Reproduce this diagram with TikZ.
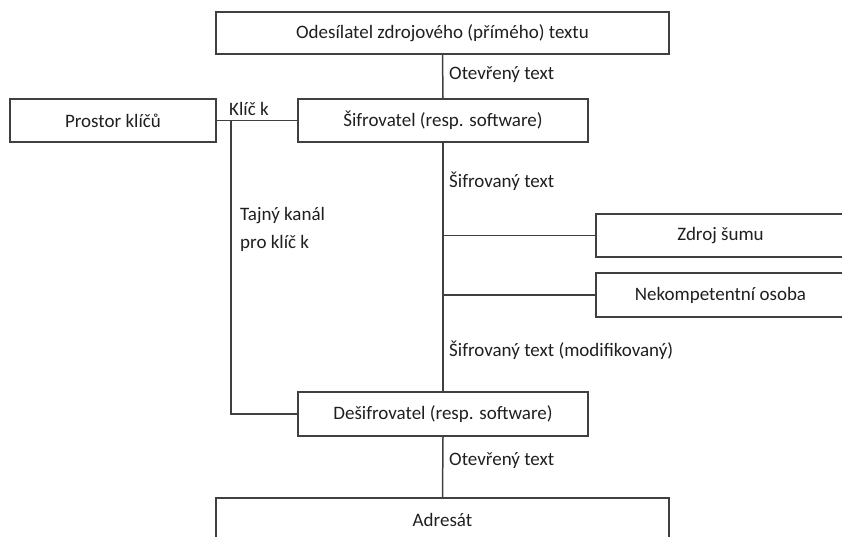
\documentclass[tikz,border=0pt]{standalone}
\usepackage{fontspec}
\setmainfont{Carlito}
\begin{document}
\begin{tikzpicture}[x=1pt,y=-1pt,
  box/.style={draw=black!75, line width=1.5pt, minimum height=43pt, inner sep=0pt, text=black!88},
  conn/.style={draw=black!75, line width=1.5pt},
  lbl/.style={anchor=west, inner sep=0pt, text=black!88},
  font=\fontsize{19}{23}\selectfont]
\useasboundingbox (0,0) rectangle (842,537);
\clip (0,0) rectangle (842,537);
\node[box, minimum width=453pt, minimum height=42pt] (src) at (442.5,33) {Odesílatel zdrojového (přímého) textu};
\node[box, minimum width=290pt] (enc) at (443,120.5) {Šifrovatel (resp. software)};
\node[box, minimum width=206pt] (keys) at (113,120.5) {Prostor klíčů};
\node[box, minimum width=249pt] (noise) at (720.5,235.5) {Zdroj šumu};
\node[box, minimum width=249pt, minimum height=44pt] (intr) at (720.5,295) {Nekompetentní osoba};
\node[box, minimum width=290pt, minimum height=44pt] (dec) at (443,414) {Dešifrovatel (resp. software)};
\node[box, minimum width=453pt] (dst) at (442.5,519.5) {Adresát};
\coordinate (kj) at (231,120.5);
\draw[conn] (src.south) -- (enc.north);
\draw[conn] (keys.east) -- (enc.west);
\draw[conn] (kj) |- (dec.west);
\draw[conn] (enc.south) -- (dec.north);
\draw[conn] (noise.west -| enc.south) -- (noise.west);
\draw[conn] (intr.west -| enc.south) -- (intr.west);
\draw[conn] (dec.south) -- (dst.north);
\node[lbl] (l1) at (449,75) {Otevřený text};
\node[lbl] (l2) at (229,109) {Klíč k};
\node[lbl] (l3) at (449,181) {Šifrovaný text};
\node[lbl] (l4) at (240,216) {Tajný kanál};
\node[lbl] (l5) at (240,243) {pro klíč k};
\node[lbl] (l6) at (449,350) {Šifrovaný text (modifikovaný)};
\node[lbl] (l7) at (449,461) {Otevřený text};
\end{tikzpicture}
\end{document}
